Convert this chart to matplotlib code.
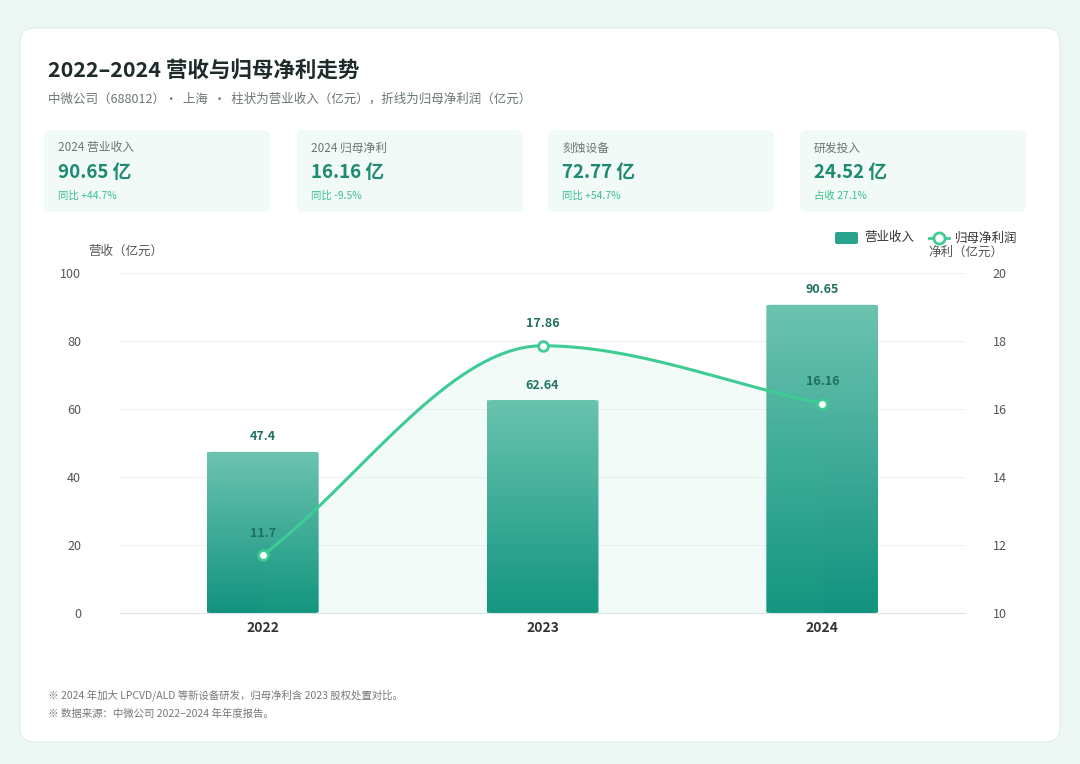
import matplotlib
matplotlib.use("Agg")
import matplotlib.pyplot as plt
import numpy as np
from matplotlib.patches import FancyBboxPatch, Rectangle
from matplotlib.lines import Line2D

plt.rcParams['font.family'] = ['Noto Sans CJK SC', 'DejaVu Sans']

years = ['2022', '2023', '2024']
revenue = [47.4, 62.64, 90.65]
profit = [11.7, 17.86, 16.16]
kpi_titles = ['2024 营业收入', '2024 归母净利', '刻蚀设备', '研发投入']
kpi_values = ['90.65 亿', '16.16 亿', '72.77 亿', '24.52 亿']
kpi_notes = ['同比 +44.7%', '同比 -9.5%', '同比 +54.7%', '占收 27.1%']

W, H = 1080, 764
fig = plt.figure(figsize=(W/100, H/100), dpi=100)
fig.patch.set_facecolor('#e8f5f1')
def fx(x): return x / W
def fy(y): return 1 - y / H

bg = fig.add_axes([0, 0, 1, 1]); bg.set_axis_off(); bg.set_xlim(0, W); bg.set_ylim(H, 0)
grad = np.linspace(0, 1, 256).reshape(1, -1)
bg.imshow(np.dstack([np.full((1,256),0.93), np.full((1,256),0.975), np.full((1,256),0.96)]),
          extent=[0, W, H, 0], aspect='auto')
bg.add_patch(FancyBboxPatch((20, 28), 1040, 714, boxstyle="round,pad=0,rounding_size=14",
                            fc='white', ec='#e3efeb', lw=1))
bg.set_xlim(0, W); bg.set_ylim(H, 0)

bg.text(48, 70, '2022–2024 营收与归母净利走势', fontsize=15.5, fontweight='bold', color='#1f2a2a', va='center')
bg.text(48, 99, '中微公司（688012）·  上海  ·  柱状为营业收入（亿元），折线为归母净利润（亿元）',
        fontsize=9, color='#6b7575', va='center')

cards_x = [44, 297, 548, 800]
for i, x0 in enumerate(cards_x):
    bg.add_patch(FancyBboxPatch((x0, 130), 226, 82, boxstyle="round,pad=0,rounding_size=6",
                                fc='#f2faf8', ec='none'))
    bg.text(x0+14, 148, kpi_titles[i], fontsize=8.5, color='#6b7575', va='center')
    bg.text(x0+14, 173, kpi_values[i], fontsize=13.5, fontweight='bold', color='#1e8a72', va='center')
    bg.text(x0+14, 196, kpi_notes[i], fontsize=7.5, color='#3cbf8c', va='center')

bg.text(88, 251, '营收（亿元）', fontsize=9, color='#555', va='center')
bg.text(928, 252, '净利（亿元）', fontsize=9, color='#555', va='center')
bg.add_patch(FancyBboxPatch((835, 232), 23, 12, boxstyle="round,pad=0,rounding_size=2", fc='#2aa38d', ec='none'))
bg.text(864, 238, '营业收入', fontsize=9, color='#333', va='center')
bg.add_line(Line2D([929, 949], [238, 238], color='#3ecb94', lw=2))
bg.plot([939], [238], 'o', ms=8, mfc='white', mec='#3ecb94', mew=2)
bg.text(955, 238, '归母净利润', fontsize=9, color='#333', va='center')

bg.text(48, 695, '※ 2024 年加大 LPCVD/ALD 等新设备研发，归母净利含 2023 股权处置对比。', fontsize=7.5, color='#777', va='center')
bg.text(48, 714, '※ 数据来源：中微公司 2022–2024 年年度报告。', fontsize=7.5, color='#777', va='center')

ax = fig.add_axes([fx(120), fy(613), fx(845), fy(273) - fy(613)])
ax.set_facecolor('none')
x = np.arange(len(years))
ax.set_xlim(-0.51, 2.51); ax.set_ylim(0, 100)
ax.set_yticks([0, 20, 40, 60, 80, 100])
ax.tick_params(axis='y', length=0, labelsize=9, labelcolor='#555', pad=28)
ax.set_xticks(x); ax.set_xticklabels(years, fontsize=10, fontweight='bold', color='#333')
ax.tick_params(axis='x', length=0, pad=6)
for s in ['top', 'right', 'left']: ax.spines[s].set_visible(False)
ax.spines['bottom'].set_color('#dde5e3')
ax.grid(axis='y', color='#eef2f1', lw=0.8); ax.set_axisbelow(True)

cmap = matplotlib.colors.LinearSegmentedColormap.from_list('g', ['#12937f', '#6cc3b0'])
bars = ax.bar(x, revenue, width=0.4, color='none', zorder=2)
for b, v in zip(bars, revenue):
    bb = b.get_x(); w = b.get_width()
    clip = FancyBboxPatch((bb, 0), w, v, boxstyle="round,pad=0,rounding_size=0.02",
                          mutation_aspect=100/3.02/ (845/340), fc='none', ec='none', transform=ax.transData)
    ax.add_patch(clip)
    im = ax.imshow(np.linspace(0, 1, 200).reshape(-1, 1), cmap=cmap, origin='lower',
                   extent=[bb, bb + w, 0, v], aspect='auto', zorder=2)
    im.set_clip_path(clip)
    ax.text(b.get_x() + w/2, v + 2.5, f'{v:g}', ha='center', va='bottom', fontsize=9,
            fontweight='bold', color='#1e7060')
ax.set_xlim(-0.51, 2.51); ax.set_ylim(0, 100)

ax2 = ax.twinx()
ax2.set_ylim(10, 20); ax2.set_yticks([10, 12, 14, 16, 18, 20])
ax2.tick_params(axis='y', length=0, labelsize=9, labelcolor='#555', pad=20)
for s in ax2.spines.values(): s.set_visible(False)

# smooth Hermite curve through points
p = np.array(profit, float)
m = np.zeros_like(p)
m[0] = p[1] - p[0]; m[-1] = p[-1] - p[-2]
for i in range(1, len(p) - 1):
    d0, d1 = p[i] - p[i-1], p[i+1] - p[i]
    m[i] = 0 if d0 * d1 <= 0 else (d0 + d1) / 2
xs, ys = [], []
for i in range(len(p) - 1):
    t = np.linspace(0, 1, 60)
    h00 = 2*t**3 - 3*t**2 + 1; h10 = t**3 - 2*t**2 + t
    h01 = -2*t**3 + 3*t**2; h11 = t**3 - t**2
    xs.append(i + t); ys.append(h00*p[i] + h10*m[i] + h01*p[i+1] + h11*m[i+1])
xs = np.concatenate(xs); ys = np.concatenate(ys)
ax2.fill_between(xs, 10, ys, color='#3ecb94', alpha=0.06, lw=0, zorder=1)
ax2.plot(xs, ys, color='#3ecb94', lw=2.2, zorder=3)
ax2.plot(x, p, 'o', ms=7, mfc='white', mec='#3ecb94', mew=2, zorder=4)
for xi, v in zip(x, profit):
    ax2.text(xi, v + 0.45, f'{v:g}', ha='center', va='bottom', fontsize=9,
             fontweight='bold', color='#1e7060', zorder=5)
ax2.set_xlim(-0.51, 2.51)

fig.savefig('out.png', dpi=100, facecolor=fig.get_facecolor())
